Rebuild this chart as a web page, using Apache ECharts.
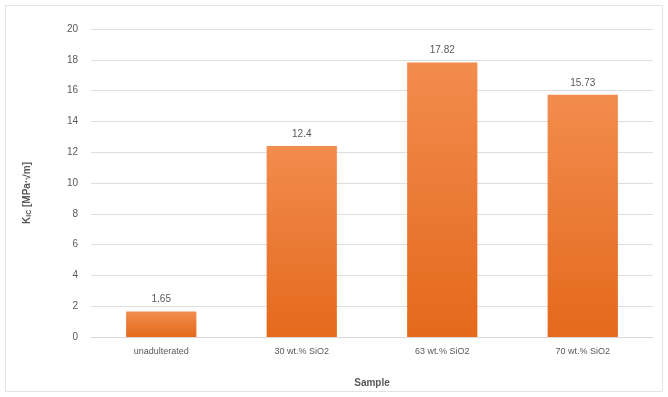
<!DOCTYPE html>
<html>
<head>
<meta charset="utf-8">
<script src="https://cdn.jsdelivr.net/npm/echarts@6/dist/echarts.min.js"></script>
<style>
  html, body { margin: 0; padding: 0; background: #ffffff; }
  #chart { width: 668px; height: 397px; }
</style>
</head>
<body>
<div id="chart"></div>
<script>
// Fracture toughness per sample
const categories = ['unadulterated', '30 wt.% SiO2', '63 wt.% SiO2', '70 wt.% SiO2'];
const kicValues = [1.65, 12.4, 17.82, 15.73];
const yMin = 0, yMax = 20, yStep = 2;

const chart = echarts.init(document.getElementById('chart'), null, { renderer: 'canvas' });
const textColor = '#595959';
const font = 'Liberation Sans';

chart.setOption({
  animation: false,
  backgroundColor: '#ffffff',
  graphic: [{
    type: 'rect',
    shape: { x: 5.5, y: 5.5, width: 657, height: 386 },
    style: { fill: 'none', stroke: '#e4e4e4', lineWidth: 1 },
    silent: true
  }],
  grid: { left: 91, right: 15, top: 29, bottom: 60 },
  xAxis: {
    type: 'category',
    data: categories,
    name: 'Sample',
    nameLocation: 'middle',
    nameGap: 41,
    nameTextStyle: { color: textColor, fontFamily: font, fontSize: 10, fontWeight: 'bold' },
    axisLine: { lineStyle: { color: '#d9d9d9' } },
    axisTick: { show: false },
    axisLabel: { color: textColor, fontFamily: font, fontSize: 9, margin: 10 }
  },
  yAxis: {
    type: 'value',
    min: yMin, max: yMax, interval: yStep,
    name: '{b|K}{s|IC}{b| [MPa·√m]}',
    nameLocation: 'middle',
    nameRotate: 90,
    nameGap: 58,
    nameTextStyle: {
      color: textColor, fontFamily: font,
      padding: [0, 20, 0, 0],
      rich: {
        b: { fontSize: 10, fontWeight: 'bold', color: textColor, fontFamily: font },
        s: { fontSize: 7, fontWeight: 'bold', color: textColor, fontFamily: font, verticalAlign: 'bottom', padding: [4, 0, 0, 0] }
      }
    },
    axisLine: { show: false },
    axisTick: { show: false },
    axisLabel: { color: textColor, fontFamily: font, fontSize: 10, margin: 13 },
    splitLine: { lineStyle: { color: '#dedede', width: 1 } }
  },
  series: [{
    type: 'bar',
    data: kicValues,
    barWidth: '50%',
    itemStyle: {
      color: new echarts.graphic.LinearGradient(0, 0, 0, 1, [
        { offset: 0, color: '#f28c4e' },
        { offset: 1, color: '#e4691c' }
      ])
    },
    label: {
      show: true,
      position: 'top',
      distance: 7,
      color: textColor,
      fontFamily: font,
      fontSize: 10
    }
  }]
});
</script>
</body>
</html>
